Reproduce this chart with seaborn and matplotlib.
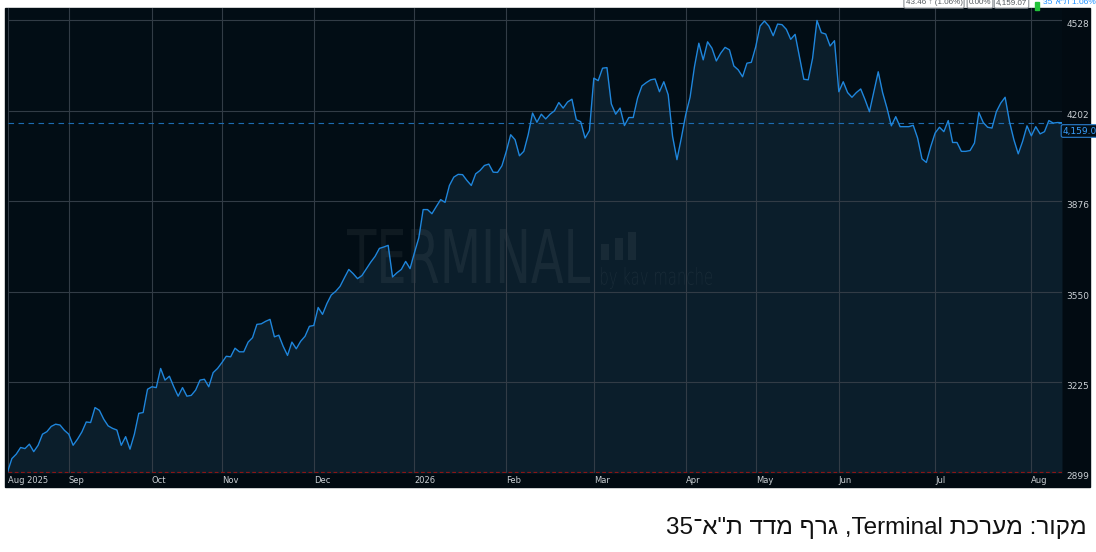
import re
import matplotlib
matplotlib.use("Agg")
import matplotlib.pyplot as plt
import pandas as pd
import seaborn as sns
from matplotlib.patches import Rectangle, PathPatch
from matplotlib.textpath import TextPath
from matplotlib.font_manager import FontProperties
from matplotlib.transforms import Affine2D

W, H = 1096, 552

# TA-35 closes, one per trading day, Aug 2025 -> Aug 2026
close = [
    2899, 2948, 2964, 2988, 2984, 3000, 2973, 2996, 3036, 3045,
    3064, 3072, 3069, 3050, 3036, 2996, 3018, 3044, 3080, 3078,
    3132, 3122, 3090, 3066, 3057, 3051, 2996, 3027, 2982, 3036,
    3111, 3114, 3198, 3207, 3204, 3273, 3231, 3245, 3207, 3173,
    3204, 3173, 3176, 3195, 3231, 3234, 3207, 3258, 3273, 3294,
    3317, 3315, 3346, 3333, 3333, 3368, 3384, 3432, 3434, 3443,
    3450,
    3387, 3393, 3353, 3320, 3368, 3344, 3371, 3389, 3425, 3428,
    3493, 3468, 3507, 3538, 3551, 3569, 3600, 3630, 3615, 3597,
    3608, 3632, 3656, 3677, 3706, 3711, 3717, 3603, 3618, 3630,
    3659, 3633, 3690, 3744, 3846, 3846, 3831, 3857, 3882, 3872,
    3933, 3963, 3973, 3972, 3951, 3933, 3975, 3987, 4005, 4010,
    3981, 3980, 4004, 4056, 4116, 4098,
    4040, 4056, 4116, 4194, 4161, 4190, 4173, 4190, 4202, 4232,
    4212, 4234, 4244, 4170, 4163, 4104, 4131, 4320, 4311, 4356,
    4358, 4227, 4190, 4212, 4149, 4178, 4178, 4248, 4292, 4304,
    4314, 4317, 4271, 4307, 4260, 4110, 4026, 4104, 4188, 4251,
    4361, 4446, 4386, 4451, 4428, 4382, 4410, 4431, 4422, 4364,
    4350, 4325, 4374, 4377, 4433, 4508, 4526, 4508, 4473, 4515,
    4513, 4496, 4460, 4478,
    4397, 4316, 4314, 4392, 4528, 4484, 4479, 4436, 4455, 4271,
    4307, 4268, 4251, 4268, 4281, 4242, 4199, 4271, 4343, 4268,
    4212, 4148, 4181, 4145, 4145, 4145, 4150, 4104, 4029, 4016,
    4073, 4122, 4143, 4127, 4167, 4088, 4088, 4056, 4056, 4059,
    4086, 4196, 4160, 4143, 4140, 4199, 4230, 4251, 4163, 4098,
    4047, 4092, 4148, 4112, 4145, 4119, 4127, 4167, 4158, 4160,
    4159.07,
]
month_labels = ["Aug 2025", "Sep", "Oct", "Nov", "Dec", "2026", "Feb",
                "Mar", "Apr", "May", "Jun", "Jul", "Aug"]
month_pos = [0, 14, 33, 49, 70, 93, 114, 134, 155, 171, 190, 212, 234]
y_ticks = [2899, 3225, 3550, 3876, 4202, 4528]
header_boxes = ["43.46 \u2191 (1.06%)", "0.00%", "4,159.07"]
index_name = 'ת"א־35'
caption = 'מקור: מערכת Terminal, גרף מדד ת"א־35'


def visual(s):
    # matplotlib has no bidi: flip the line, then flip latin/digit runs back
    rev = s[::-1]
    return re.sub(r"[A-Za-z0-9]+", lambda m: m.group(0)[::-1], rev)


def px(x, y):
    return x / W, 1 - y / H


sns.set_theme(style="dark")
plt.rcParams["font.family"] = ["DejaVu Sans"]

df = pd.DataFrame({"day": range(len(close)), "close": close})

fig = plt.figure(figsize=(W / 100, H / 100), dpi=100, facecolor="white")
to_fig = Affine2D().scale(1 / W, -1 / H).translate(0, 1) + fig.transFigure

# dark terminal panel behind the axes
panel = Rectangle((5, 8), 1085, 479, transform=to_fig, color="#020b12", zorder=-2)
fig.add_artist(panel)

x0, y0 = px(7.5, 473)
x1, y1 = px(1062, 8)
ax = fig.add_axes([x0, y0, x1 - x0, y1 - y0])
ax.set_facecolor("#020d15")
for sp in ax.spines.values():
    sp.set_visible(False)

ax.fill_between(df["day"], df["close"], y_ticks[0] - 3, color="#0b1e2b", lw=0, zorder=1)

# watermark
wm_col = (1, 1, 1, 0.055)
def wm_text(s, left, top, right, bottom, family, weight):
    tp = TextPath((0, 0), s, size=100, prop=FontProperties(family=family, weight=weight))
    bb = tp.get_extents()
    tr = (Affine2D().translate(-bb.x0, -bb.y1)
          .scale((right - left) / bb.width, -(bottom - top) / bb.height)
          .translate(left, top))
    ax.add_artist(PathPatch(tr.transform_path(tp), transform=to_fig, fc=wm_col, ec="none", zorder=1.5))

wm_text("TERMINAL", 347, 229, 590, 283, "DejaVu Sans", "normal")
wm_text("by kav manche", 601, 267, 712, 289, "DejaVu Sans", "light")
for bx, btop in [(601, 244), (615, 238), (628, 232)]:
    ax.add_artist(Rectangle((bx, btop), 7.5, 260 - btop, transform=to_fig,
                            fc=wm_col, ec="none", zorder=1.5))

# grid
for v in y_ticks[1:]:
    ax.axhline(v, color="#323c46", lw=0.8, zorder=2)
for p in month_pos:
    ax.axvline(p, color="#323c46", lw=0.8, zorder=2)
ax.axhline(y_ticks[0], color="#8a1515", lw=0.9, ls=(0, (3, 2)), zorder=4)
ax.axhline(close[-1], color="#1c6bb0", lw=0.8, ls=(0, (5, 4)), zorder=2.5)

sns.lineplot(data=df, x="day", y="close", ax=ax, color="#1f86dc", lw=1.0, zorder=3)

ax.set_xlim(0, len(close) - 1)
ax.set_ylim(y_ticks[0] - 3, 4573)
ax.set_xlabel("")
ax.set_ylabel("")

ax.yaxis.tick_right()
ax.set_yticks(y_ticks)
ax.set_yticklabels([str(v) for v in y_ticks])
ax.tick_params(axis="y", length=0, pad=3, labelsize=6.5, labelcolor="#c9ced3")
for lbl in ax.get_yticklabels():
    lbl.set_va("top")

ax.set_xticks(month_pos)
ax.set_xticklabels(month_labels)
ax.tick_params(axis="x", length=0, pad=2, labelsize=6, labelcolor="#c9ced3")
for lbl in ax.get_xticklabels():
    lbl.set_ha("left")

# last price tag
fig.text(*px(1063, 131), f"{close[-1]:,.2f}", fontsize=6.5, color="#3aa0ff",
         ha="left", va="center",
         bbox=dict(boxstyle="round,pad=0.2", fc="#020e16", ec="#2a7fd0", lw=0.8))

# header strip, cut at the top edge like the screenshot
for txt, hx in zip(header_boxes, [934, 980, 1011.5]):
    fig.text(*px(hx, 3), txt, fontsize=5.8, color="#555b60", ha="center", va="center",
             family=["Liberation Sans", "DejaVu Sans"],
             bbox=dict(boxstyle="round,pad=0.2", fc="white", ec="#8a8f94", lw=0.8))
fig.add_artist(Rectangle((1035, 2), 4, 8, transform=to_fig, color="#22c33a"))
fig.text(*px(1043, 3), visual(index_name) + " 1.06%", fontsize=6, color="#1e90ff",
         ha="left", va="center", family=["Liberation Sans", "DejaVu Sans"])

fig.text(*px(1087, 528), visual(caption), fontsize=17.5, color="#111111",
         ha="right", va="center", family=["Liberation Sans", "DejaVu Sans"])

fig.savefig("out.png", dpi=100, facecolor="white")
